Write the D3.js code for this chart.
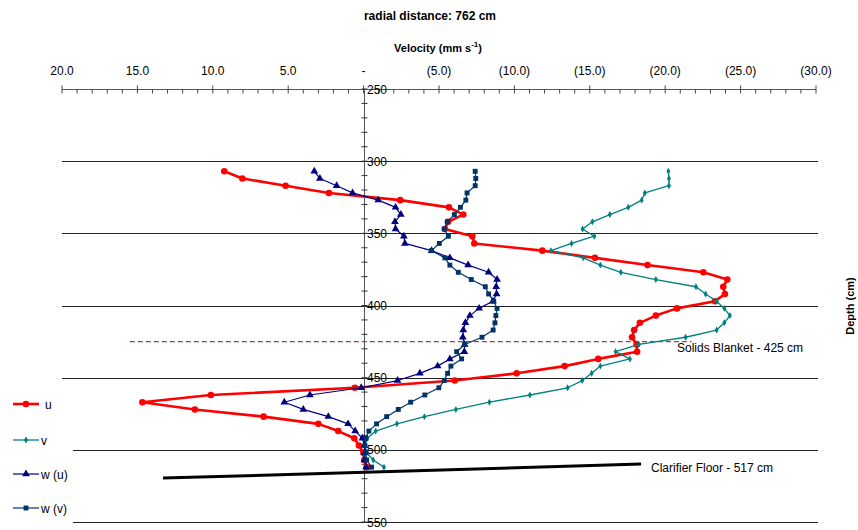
<!DOCTYPE html>
<html>
<head>
<meta charset="utf-8">
<script src="https://cdn.jsdelivr.net/npm/d3@7.9.0/dist/d3.min.js"></script>
<style>
  body { margin: 0; background: #fff; }
  svg { font-family: "Liberation Sans", Arial, sans-serif; display: block; }
</style>
</head>
<body>
<svg id="chart" width="858" height="530"></svg>
<script>
// depth of each measurement (cm)
const depths = [307, 312, 317, 322, 327, 332, 337, 342, 347, 352, 357, 362, 367, 372,
  377, 382, 387, 392, 397, 402, 407, 412, 417, 422, 427, 432, 437, 442, 447, 452,
  457, 462, 467, 472, 477, 482, 487, 492, 497, 502, 507, 512];

// velocities (mm/s)
const uVals = [9.24, 8.04, 5.17, 2.30, -2.43, -5.66, -6.61, -5.60, -5.39, -7.21, -7.34,
  -11.85, -15.34, -18.83, -22.53, -24.12, -23.85, -23.96, -23.30, -20.78, -19.38,
  -18.32, -17.94, -17.80, -18.10, -18.14, -15.56, -13.33, -10.15, -6.05, 0.58,
  10.13, 14.67, 11.19, 6.63, 3.00, 1.68, 0.62, 0.31, 0.02, -0.05, -0.20];
const vVals = [-20.21, -20.25, -20.25, -18.65, -18.44, -17.55, -16.33, -15.17, -14.52,
  -15.30, -13.79, -12.42, -14.57, -15.70, -17.06, -19.38, -22.04, -22.68, -23.41,
  -23.92, -24.29, -23.92, -23.41, -21.35, -18.26, -16.71, -17.66, -15.70, -15.12,
  -14.50, -13.53, -11.03, -8.34, -6.12, -4.03, -2.21, -0.80, -0.25, -0.09, -0.20,
  -0.64, -1.35];
const wuVals = [3.27, 2.90, 1.79, 0.73, -0.97, -2.12, -2.47, -2.08, -2.12, -2.67, -2.74,
  -4.51, -5.72, -6.93, -8.29, -8.85, -8.79, -8.82, -8.57, -7.66, -7.05, -6.75,
  -6.61, -6.58, -6.70, -6.68, -5.72, -4.91, -3.73, -2.25, 0.16, 3.56, 5.26, 4.00,
  2.34, 1.03, 0.56, 0.08, -0.05, -0.09, -0.05, -0.17];
const wvVals = [-7.40, -7.44, -7.40, -6.86, -6.78, -6.42, -6.02, -5.55, -5.35, -5.62,
  -5.02, -4.51, -5.39, -5.72, -6.28, -7.14, -8.07, -8.29, -8.63, -8.85, -8.77,
  -8.71, -8.59, -7.85, -6.70, -6.17, -6.50, -5.79, -5.57, -5.35, -4.99, -4.06,
  -3.12, -2.30, -1.53, -0.86, -0.35, -0.15, -0.09, -0.15, -0.20, -0.53];

const seriesNames = ['u', 'v', 'w (u)', 'w (v)'];
const xTicks = [20, 15, 10, 5, 0, -5, -10, -15, -20, -25, -30];
const yTicks = [250, 300, 350, 400, 450, 500, 550];

// annotation lines: [velocity, depth]
const blanketLine = [[15.5, 425], [-21.75, 425]];
const floorLine = [[13.3, 519.6], [-18.4, 509.9]];

const svg = d3.select('#chart');
const x = d3.scaleLinear().domain([20, -30]).range([62, 816]);
const y = d3.scaleLinear().domain([250, 550]).range([89, 522]);

const styles = [
  { color: '#ff0000', width: 2.6, shape: d3.symbolCircle, size: 34 },
  { color: '#008080', width: 1.3, shape: d3.symbolDiamond, size: 14 },
  { color: '#000080', width: 1.2, shape: d3.symbolTriangle, size: 26 },
  { color: '#003366', width: 1.2, shape: d3.symbolSquare, size: 24 },
];
const allVals = [uVals, vVals, wuVals, wvVals];

// horizontal gridlines
svg.append('g').selectAll('line')
  .data(yTicks.slice(1))
  .join('line')
  .attr('x1', 62).attr('x2', 818)
  .attr('y1', d => Math.round(y(d)) + 0.5).attr('y2', d => Math.round(y(d)) + 0.5)
  .attr('stroke', '#222').attr('stroke-width', 1);

// top (velocity) axis
const fmt = d => d === 0 ? '-' : d > 0 ? d3.format('.1f')(d) : '(' + d3.format('.1f')(-d) + ')';
const xa = svg.append('g').attr('transform', 'translate(0,89.5)');
xa.append('line').attr('x1', 62).attr('x2', 816).attr('stroke', '#555');
xa.selectAll('.minor').data(d3.range(20, -31, -1)).join('line')
  .attr('x1', d => x(d)).attr('x2', d => x(d))
  .attr('y1', d => d % 5 === 0 ? -4 : 0).attr('y2', 4)
  .attr('stroke', '#444');
svg.append('g').selectAll('text').data(xTicks).join('text')
  .attr('x', d => x(d)).attr('y', 75)
  .attr('text-anchor', 'middle').attr('font-size', 12)
  .text(fmt);

// depth axis through zero velocity
const ya = svg.append('g').attr('transform', `translate(${Math.round(x(0)) + 0.5},0)`);
ya.append('line').attr('y1', 89).attr('y2', 522).attr('stroke', '#555');
ya.selectAll('line.t').data(d3.range(250, 551, 10)).join('line')
  .attr('class', 't')
  .attr('x1', -3).attr('x2', 3)
  .attr('y1', d => y(d)).attr('y2', d => y(d))
  .attr('stroke', '#333');
svg.append('g').selectAll('text').data(yTicks).join('text')
  .attr('x', 367).attr('y', d => y(d) + 4.5)
  .attr('font-size', 12)
  .text(d => d);

// solids blanket
const line = d3.line().x(d => x(d[0])).y(d => y(d[1]));
svg.append('path').attr('d', line(blanketLine))
  .attr('fill', 'none').attr('stroke', '#a04040').attr('stroke-width', 1.1)
  .attr('stroke-dasharray', '5,3');

// series
allVals.forEach((vals, i) => {
  const s = styles[i];
  const pts = vals.map((v, k) => [v, depths[k]]);
  const g = svg.append('g');
  g.append('path').attr('d', line(pts))
    .attr('fill', 'none').attr('stroke', s.color).attr('stroke-width', s.width)
    .attr('stroke-linejoin', 'round');
  g.selectAll('path.m').data(pts).join('path')
    .attr('class', 'm')
    .attr('transform', d => `translate(${x(d[0])},${y(d[1])})`)
    .attr('d', d3.symbol().type(s.shape).size(s.size))
    .attr('fill', s.color);
});

// clarifier floor
svg.append('path').attr('d', line(floorLine))
  .attr('fill', 'none').attr('stroke', '#000').attr('stroke-width', 3);

svg.append('text').attr('x', 677).attr('y', 352).attr('font-size', 12)
  .text('Solids Blanket - 425 cm');
svg.append('text').attr('x', 651).attr('y', 472).attr('font-size', 12)
  .text('Clarifier Floor - 517 cm');

// titles
svg.append('text').attr('x', 430).attr('y', 20).attr('text-anchor', 'middle')
  .attr('font-size', 12).attr('font-weight', 'bold')
  .text('radial distance: 762 cm');
const vt = svg.append('text').attr('x', 438).attr('y', 52).attr('text-anchor', 'middle')
  .attr('font-size', 11).attr('font-weight', 'bold');
vt.append('tspan').text('Velocity (mm s');
vt.append('tspan').attr('dy', -5).attr('font-size', 8).text('-1');
vt.append('tspan').attr('dy', 5).text(')');
svg.append('text').attr('transform', 'translate(854,306) rotate(-90)')
  .attr('text-anchor', 'middle').attr('font-size', 11).attr('font-weight', 'bold')
  .text('Depth (cm)');

// legend
const lg = svg.append('g');
lg.append('rect').attr('x', 0).attr('y', 385).attr('width', 73).attr('height', 145).attr('fill', '#fff');
const legY = [404, 440, 474, 508];
seriesNames.forEach((name, i) => {
  const s = styles[i];
  lg.append('line').attr('x1', 13).attr('x2', 39).attr('y1', legY[i]).attr('y2', legY[i])
    .attr('stroke', s.color).attr('stroke-width', s.width);
  lg.append('path').attr('transform', `translate(26,${legY[i]})`)
    .attr('d', d3.symbol().type(s.shape).size(s.size)).attr('fill', s.color);
  lg.append('text').attr('x', i === 0 ? 45 : 41).attr('y', legY[i] + 4.5)
    .attr('font-size', 12).text(name);
});
</script>
</body>
</html>
